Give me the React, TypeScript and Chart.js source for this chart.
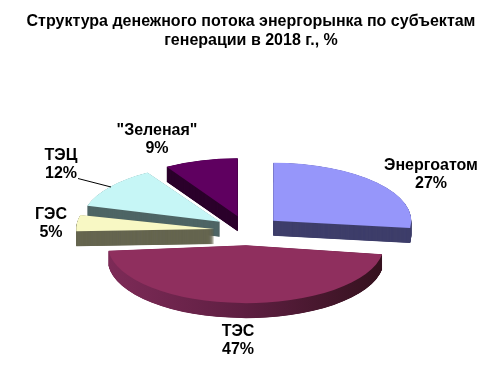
import { useEffect, useRef } from "react";
import { Chart, registerables } from "chart.js";

Chart.register(...registerables);

const categories = ["Энергоатом", "ТЭС", "ГЭС", "ТЭЦ", "\"Зеленая\""];
const values = [27, 47, 5.3, 12.1, 8.6];
const titleLines = ["Структура денежного потока энергорынка по субъектам", "генерации в 2018 г., %"];
const topColors = ["#9696FA", "#8F2F5E", "#F8F8C4", "#C6F6F6", "#5F0060"];
const sideColors = ["#3F3F6B", "#5F1F42", "#666650", "#4F6666", "#2C002C"];
const explode = [35, 35, 33, 34, 35];
const wedgeWiden = [0, 0, 0, 0, 0.02];
const drawOrder = [4, 3, 2, 0, 1];
const labelCenters = [[431, 166], [238, 332], [51, 215], [61, 156], [157, 131]];

const FONT = "'Liberation Sans', Arial, sans-serif";
const RADIUS = 138;
const TILT = 0.42;
const DEPTH = 15;
const CENTER_X = 247;
const CENTER_Y = 230.5;

const pie3d = {
  id: "pie3d",
  beforeDatasetsDraw(chart: any) {
    const ctx = chart.ctx;
    const arcs = chart.getDatasetMeta(0).data;
    const grad = ctx.createLinearGradient(109, 0, 383, 0);
    grad.addColorStop(0, "#7E2B58");
    grad.addColorStop(0.5, "#5F1F42");
    grad.addColorStop(1, "#36121F");
    const project = (arc: any, dy: number) => {
      ctx.translate(CENTER_X, CENTER_Y + dy);
      ctx.scale(1, TILT);
      ctx.translate(-arc.x, -arc.y);
    };
    for (const i of drawOrder) {
      const arc = arcs[i];
      const fix = 1 - Math.sin(Math.min(Math.PI, arc.circumference));
      arc.outerRadius = RADIUS - explode[i] * fix;
      arc.startAngle -= wedgeWiden[i];
      arc.endAngle += wedgeWiden[i];
      const base = arc.options;
      arc.options = { ...base, backgroundColor: i === 1 ? grad : sideColors[i] };
      for (let dy = DEPTH; dy >= 0.25; dy -= 0.25) {
        ctx.save();
        project(arc, dy);
        arc.draw(ctx);
        ctx.restore();
      }
      arc.options = base;
      ctx.save();
      project(arc, 0);
      arc.draw(ctx);
      ctx.restore();
    }
    return false;
  },
  afterDraw(chart: any) {
    const ctx = chart.ctx;
    ctx.save();
    ctx.strokeStyle = "#000";
    ctx.lineWidth = 1;
    ctx.beginPath();
    ctx.moveTo(78, 178.5);
    ctx.lineTo(111, 187);
    ctx.stroke();
    ctx.fillStyle = "#000";
    ctx.font = `bold 16px ${FONT}`;
    ctx.textAlign = "center";
    ctx.textBaseline = "middle";
    categories.forEach((name, i) => {
      const [x, y] = labelCenters[i];
      ctx.fillText(name, x, y);
      ctx.fillText(`${Math.round(values[i])}%`, x, y + 18);
    });
    ctx.restore();
  },
};

export default function App() {
  const ref = useRef<HTMLCanvasElement>(null);
  useEffect(() => {
    const chart = new Chart(ref.current!, {
      type: "pie",
      data: {
        labels: categories,
        datasets: [{ data: values, backgroundColor: topColors, borderWidth: 0, offset: explode.map((e) => e * 4) }],
      },
      options: {
        animation: false,
        responsive: false,
        radius: RADIUS,
        events: [],
        plugins: {
          legend: { display: false },
          tooltip: { enabled: false },
          title: {
            display: true,
            text: titleLines,
            color: "#000",
            font: { family: FONT, size: 16, weight: "bold", lineHeight: 1.19 },
            padding: { top: 12, bottom: 10 },
          },
        },
      },
      plugins: [pie3d],
    } as any);
    return () => chart.destroy();
  }, []);
  return (
    <div style={{ position: "absolute", left: 0, top: 0, width: 502, height: 378, background: "#fff", overflow: "hidden" }}>
      <canvas ref={ref} width={502} height={378} style={{ display: "block" }} />
    </div>
  );
}
